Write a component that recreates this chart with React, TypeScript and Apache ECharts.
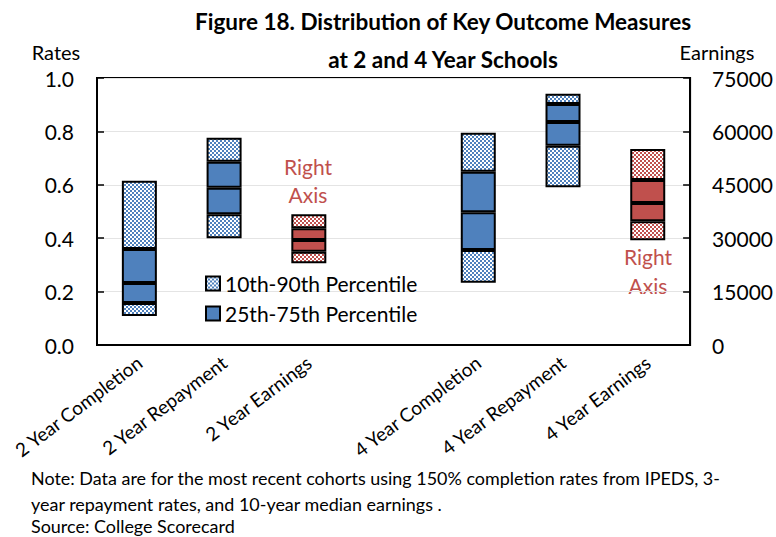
import React, { useEffect, useRef } from "react";
import * as echarts from "echarts";

const categories = [
  "2 Year Completion",
  "2 Year Repayment",
  "2 Year Earnings",
  "",
  "4 Year Completion",
  "4 Year Repayment",
  "4 Year Earnings",
];

// Rates (left axis)
const rateP10 = [0.109, 0.4, null, null, 0.233, 0.591, null];
const rateP25 = [0.157, 0.49, null, null, 0.356, 0.746, null];
const rateP50 = [0.232, 0.589, null, null, 0.497, 0.835, null];
const rateP75 = [0.36, 0.686, null, null, 0.649, 0.903, null];
const rateP90 = [0.615, 0.776, null, null, 0.795, 0.941, null];

// Earnings (right axis)
const earnP10 = [null, null, 22950, null, null, null, 29400];
const earnP25 = [null, null, 26200, null, null, null, 34750];
const earnP50 = [null, null, 29500, null, null, null, 39900];
const earnP75 = [null, null, 32800, null, null, null, 46350];
const earnP90 = [null, null, 36700, null, null, null, 55050];

const leftTicks = { min: 0, max: 1, interval: 0.2 };
const rightTicks = { min: 0, max: 75000, interval: 15000 };

const titleLines = ["Figure 18. Distribution of Key Outcome Measures", "at 2 and 4 Year Schools"];
const noteLines = [
  "Note: Data are for the most recent cohorts using 150% completion rates from IPEDS, 3-",
  "year repayment rates, and 10-year median earnings .",
  "Source: College Scorecard",
];

const BLUE = "#4F81BD";
const RED = "#C0504D";
const FONT = "Lato";

function checker(fg: string, bg: string, cell = 2) {
  const c = document.createElement("canvas");
  c.width = cell * 2;
  c.height = cell * 2;
  const ctx = c.getContext("2d")!;
  ctx.fillStyle = bg;
  ctx.fillRect(0, 0, cell * 2, cell * 2);
  ctx.fillStyle = fg;
  ctx.fillRect(0, 0, cell, cell);
  ctx.fillRect(cell, cell, cell, cell);
  return { image: c, repeat: "repeat", imageWidth: cell * 2, imageHeight: cell * 2 } as any;
}

function diff(lo: (number | null)[], hi: (number | null)[]) {
  return lo.map((v, i) => {
    const h = hi[i];
    return v == null || h == null ? "-" : +(h - v).toFixed(5);
  });
}

function base(v: (number | null)[]) {
  return v.map((x) => (x == null ? "-" : x));
}

function bandSeries(
  stack: string,
  yAxisIndex: number,
  p10: (number | null)[],
  p25: (number | null)[],
  p50: (number | null)[],
  p75: (number | null)[],
  p90: (number | null)[],
  pattern: any,
  solid: string,
  patternName: string,
  solidName: string
) {
  const common = {
    type: "bar",
    stack,
    yAxisIndex,
    barWidth: 35,
    barGap: "-100%",
    emphasis: { disabled: true },
  };
  const border = { borderColor: "#000", borderWidth: 2 };
  return [
    {
      ...common,
      name: stack + "-base",
      data: base(p10),
      itemStyle: { color: "transparent", borderWidth: 0 },
      silent: true,
    },
    { ...common, name: patternName, data: diff(p10, p25), itemStyle: { color: pattern, ...border } },
    { ...common, name: solidName, data: diff(p25, p50), itemStyle: { color: solid, ...border } },
    { ...common, name: solidName, data: diff(p50, p75), itemStyle: { color: solid, ...border } },
    { ...common, name: patternName, data: diff(p75, p90), itemStyle: { color: pattern, ...border } },
  ];
}

export default function App() {
  const ref = useRef<HTMLDivElement>(null);

  useEffect(() => {
    if (!ref.current) return;
    const chart = echarts.init(ref.current, undefined, { renderer: "svg" });
    const bluePat = checker(BLUE, "#ffffff");
    const redPat = checker(RED, "#ffffff");

    const textStyle = (text: string, x: number, y: number, size: number, opts: any = {}) => ({
      type: "text",
      x,
      y,
      silent: true,
      style: {
        text,
        fontFamily: FONT,
        fontSize: size,
        fill: opts.fill || "#000",
        fontWeight: opts.bold ? "bold" : "normal",
        textAlign: opts.align || "left",
        textVerticalAlign: "middle",
      },
    });

    chart.setOption({
      animation: false,
      textStyle: { fontFamily: FONT },
      grid: {
        left: 97,
        right: 85,
        top: 78,
        bottom: 192,
        show: true,
        borderColor: "#000",
        borderWidth: 2,
        backgroundColor: "transparent",
      },
      legend: {
        orient: "vertical",
        left: 200,
        top: 268,
        data: ["10th-90th Percentile", "25th-75th Percentile"],
        icon: "rect",
        itemWidth: 14,
        itemHeight: 14,
        itemGap: 9,
        selectedMode: false,
        textStyle: { fontFamily: FONT, fontSize: 21, color: "#000" },
      },
      xAxis: {
        type: "category",
        data: categories,
        axisLine: { lineStyle: { color: "#000", width: 2 } },
        axisTick: { inside: true, length: 7, lineStyle: { color: "#000", width: 1.5 } },
        axisLabel: {
          interval: 0,
          rotate: 37,
          fontSize: 19,
          margin: 15,
          color: "#000",
          fontFamily: FONT,
        },
      },
      yAxis: [
        {
          type: "value",
          ...leftTicks,
          axisLine: { show: true, lineStyle: { color: "#000", width: 2 } },
          axisTick: { show: true, inside: true, length: 7, lineStyle: { color: "#000", width: 1.5 } },
          splitLine: { show: true, lineStyle: { color: "#e4e4e4", width: 1 } },
          axisLabel: {
            formatter: (v: number) => v.toFixed(1),
            fontSize: 21,
            margin: 23,
            color: "#000",
            fontFamily: FONT,
          },
        },
        {
          type: "value",
          position: "right",
          ...rightTicks,
          axisLine: { show: true, lineStyle: { color: "#000", width: 2 } },
          axisTick: { show: true, inside: true, length: 7, lineStyle: { color: "#000", width: 1.5 } },
          splitLine: { show: false },
          axisLabel: {
            formatter: (v: number) => String(v),
            fontSize: 21,
            margin: 22,
            color: "#000",
            fontFamily: FONT,
          },
        },
      ],
      series: [
        ...bandSeries("rate", 0, rateP10, rateP25, rateP50, rateP75, rateP90, bluePat, BLUE,
          "10th-90th Percentile", "25th-75th Percentile"),
        ...bandSeries("earn", 1, earnP10, earnP25, earnP50, earnP75, earnP90, redPat, RED,
          "Earnings 10th-90th Percentile", "Earnings 25th-75th Percentile"),
      ],
      graphic: [
        textStyle(titleLines[0], 443, 21, 22.5, { bold: true, align: "center" }),
        textStyle(titleLines[1], 443, 59, 22.5, { bold: true, align: "center" }),
        textStyle("Rates", 56, 52, 20, { align: "center" }),
        textStyle("Earnings", 717, 52, 20, { align: "center" }),
        textStyle("Right", 308, 166, 21, { align: "center", fill: RED }),
        textStyle("Axis", 308, 194, 21, { align: "center", fill: RED }),
        textStyle("Right", 648, 256, 21, { align: "center", fill: RED }),
        textStyle("Axis", 648, 285, 21, { align: "center", fill: RED }),
        textStyle(noteLines[0], 31, 478, 17.95),
        textStyle(noteLines[1], 31, 504, 17.95),
        textStyle(noteLines[2], 31, 526, 17.95),
      ],
    });

    return () => chart.dispose();
  }, []);

  return (
    <div
      ref={ref}
      style={{ position: "fixed", left: 0, top: 0, width: 776, height: 537, background: "#fff" }}
    />
  );
}
